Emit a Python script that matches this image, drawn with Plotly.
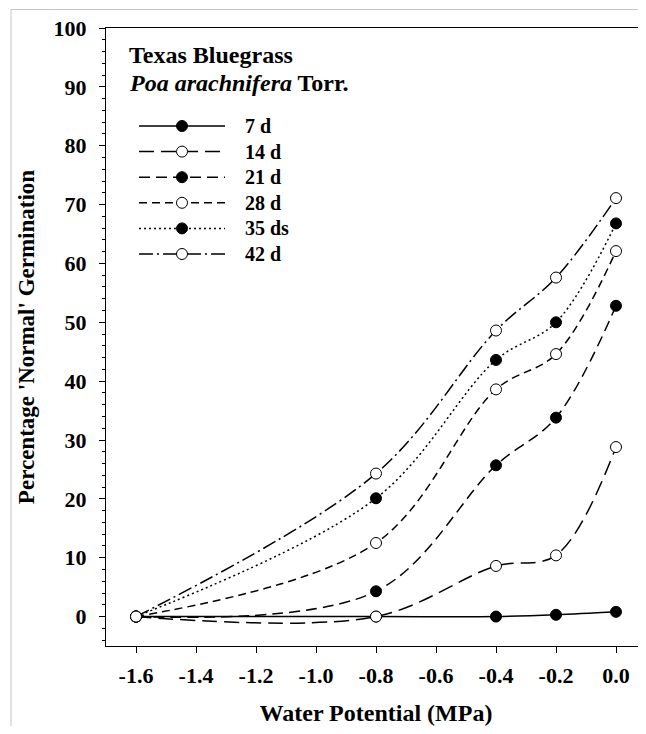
import plotly.graph_objects as go

# ---- data ----
water_potential = [-1.6, -0.8, -0.4, -0.2, 0.0]
series_names = ["7 d", "14 d", "21 d", "28 d", "35 ds", "42 d"]
germ_7d = [0.0, 0.0, 0.0, 0.3, 0.8]
germ_14d = [0.0, 0.0, 8.6, 10.4, 28.8]
germ_21d = [0.0, 4.3, 25.7, 33.8, 52.8]
germ_28d = [0.0, 12.5, 38.6, 44.6, 62.1]
germ_35d = [0.0, 20.1, 43.6, 50.0, 66.8]
germ_42d = [0.0, 24.3, 48.6, 57.6, 71.1]
series_values = [germ_7d, germ_14d, germ_21d, germ_28d, germ_35d, germ_42d]
y_tick_vals = [0, 10, 20, 30, 40, 50, 60, 70, 80, 90, 100]
x_tick_vals = [-1.6, -1.4, -1.2, -1.0, -0.8, -0.6, -0.4, -0.2, 0.0]
x_tick_text = ["-1.6", "-1.4", "-1.2", "-1.0", "-0.8", "-0.6", "-0.4", "-0.2", "0.0"]

# ---- styles ----
dashes = ["solid", "15px,7px", "11px,6px", "8px,5px", "2px,3px", "14px,4px,2px,4px"]
fills = ["black", "white", "black", "white", "black", "white"]

# the page body has an 8px default margin: size the figure so it fits the window
OFF = 8
WIN_W, WIN_H = 646, 734
W, H = WIN_W - OFF, WIN_H - 2 * OFF
# plot-area edges in window pixels
P_LEFT, P_RIGHT, P_TOP, P_BOTTOM = 106, 646, 28, 646
ML, MR, MT = P_LEFT - OFF, WIN_W - P_RIGHT, P_TOP - OFF
MB = (H + OFF) - P_BOTTOM
PW, PH = W - ML - MR, H - MT - MB
FONT = "Liberation Serif"


def px_x(p):
    """window pixel x -> paper coordinate"""
    return (p - P_LEFT) / PW


def px_y(p):
    """window pixel y -> paper coordinate"""
    return (P_BOTTOM - p) / PH


fig = go.Figure()
for name, vals, dash, fill in zip(series_names, series_values, dashes, fills):
    fig.add_trace(go.Scatter(
        x=water_potential, y=vals, name=name, mode="lines+markers",
        line=dict(color="black", width=1.5, dash=dash, shape="spline", smoothing=1.0),
        marker=dict(size=11, color=fill, line=dict(color="black", width=1)),
        showlegend=False,
    ))

shapes = []
annotations = []
# page frame (light gray)
shapes.append(dict(type="line", xref="paper", yref="paper",
                   x0=px_x(11), x1=px_x(WIN_W + 5), y0=px_y(9.5), y1=px_y(9.5),
                   line=dict(color="#c4c4c4", width=1)))
shapes.append(dict(type="line", xref="paper", yref="paper",
                   x0=px_x(11), x1=px_x(11), y0=px_y(9.5), y1=px_y(WIN_H + 5),
                   line=dict(color="#c4c4c4", width=1)))

# custom legend
row0, row_gap = 126, 25.6
for i, (name, dash, fill) in enumerate(zip(series_names, dashes, fills)):
    yy = px_y(row0 + i * row_gap)
    shapes.append(dict(type="line", xref="paper", yref="paper",
                       x0=px_x(139), x1=px_x(225), y0=yy, y1=yy,
                       line=dict(color="black", width=1.5, dash=dash)))
    shapes.append(dict(type="circle", xref="paper", yref="paper",
                       xsizemode="pixel", ysizemode="pixel",
                       xanchor=px_x(182), yanchor=yy,
                       x0=-5.5, x1=5.5, y0=-5.5, y1=5.5,
                       fillcolor=fill, line=dict(color="black", width=1)))
    annotations.append(dict(xref="paper", yref="paper", x=px_x(243), y=yy,
                            xanchor="left", yanchor="middle", showarrow=False,
                            text=name,
                            font=dict(family=FONT, size=20, color="black", weight="bold")))

annotations.append(dict(xref="paper", yref="paper", x=px_x(127), y=px_y(55),
                        xanchor="left", yanchor="middle", showarrow=False,
                        text="Texas Bluegrass",
                        font=dict(family=FONT, size=24, color="black", weight="bold")))
annotations.append(dict(xref="paper", yref="paper", x=px_x(127), y=px_y(83),
                        xanchor="left", yanchor="middle", showarrow=False,
                        text="<i>Poa arachnifera</i> Torr.",
                        font=dict(family=FONT, size=24, color="black", weight="bold")))

tickfont = dict(family=FONT, size=22, color="black", weight="bold")

fig.update_layout(
    width=W, height=H,
    margin=dict(l=ML, r=MR, t=MT, b=MB, pad=0),
    paper_bgcolor="white", plot_bgcolor="white",
    shapes=shapes, annotations=annotations,
    xaxis=dict(range=[-1.7, 0.1], tickmode="array", tickvals=x_tick_vals, ticktext=x_tick_text,
               ticks="outside", ticklen=6, tickwidth=1, tickcolor="black",
               showline=True, linecolor="black", linewidth=1, mirror=True,
               showgrid=False, zeroline=False, tickfont=tickfont, ticklabelstandoff=4,
               title=dict(text="Water Potential (MPa)", standoff=22,
                          font=dict(family=FONT, size=24, color="black", weight="bold"))),
    yaxis=dict(range=[-5, 100], tickmode="array", tickvals=y_tick_vals,
               ticks="outside", ticklen=6, tickwidth=1, tickcolor="black",
               minor=dict(dtick=2, tick0=0, ticks="outside", ticklen=3, tickcolor="black", showgrid=False),
               showline=True, linecolor="black", linewidth=1,
               showgrid=False, zeroline=False, tickfont=tickfont, ticklabelstandoff=8,
               title=dict(text="Percentage 'Normal' Germination", standoff=12,
                          font=dict(family=FONT, size=23, color="black", weight="bold"))),
)

fig.write_html("out.html", config={"displayModeBar": False})
